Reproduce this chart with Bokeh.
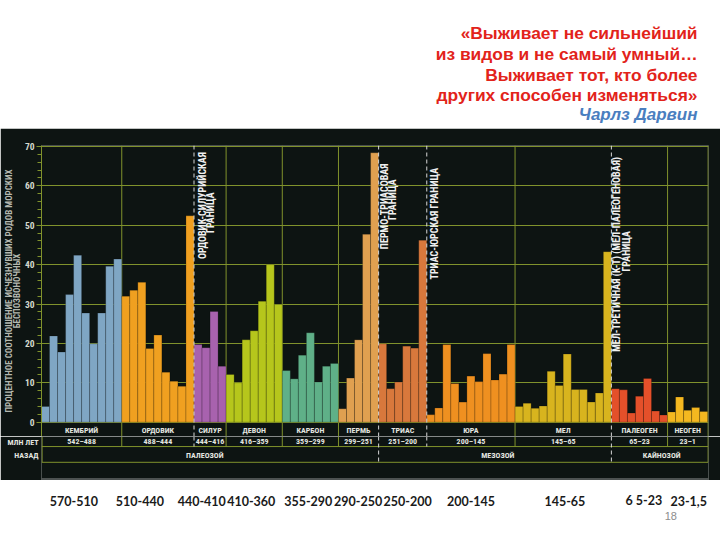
import math
from bokeh.plotting import figure
from bokeh.models import Range1d, Label, FixedTicker, ColumnDataSource, LinearAxis
from bokeh.layouts import column
from bokeh.embed import file_html
from bokeh.resources import INLINE
from bokeh.core.properties import value

# ---------------- data ----------------
periods = ["КЕМБРИЙ", "ОРДОВИК", "СИЛУР", "ДЕВОН", "КАРБОН", "ПЕРМЬ",
           "ТРИАС", "ЮРА", "МЕЛ", "ПАЛЕОГЕН", "НЕОГЕН"]
period_ages = ["542–488", "488–444", "444–416", "416–359", "359–299", "299–251",
               "251–200", "200–145", "145–65", "65–23", "23–1"]

cambrian = [4.0, 21.9, 17.8, 32.4, 42.4, 27.7, 19.9, 27.7, 39.6, 41.4]
ordovician = [32.0, 33.5, 35.5, 18.7, 22.1, 12.7, 10.4, 9.1, 52.4]
silurian = [19.7, 18.9, 28.1, 14.2]
devonian = [12.1, 10.0, 20.9, 23.2, 30.7, 40.0, 29.9]
carboniferous = [13.1, 11.0, 17.0, 22.7, 10.2, 14.2, 14.9]
permian = [3.4, 11.2, 20.9, 47.7, 68.4]
triassic = [19.9, 8.5, 10.2, 19.3, 18.8, 46.2]
jurassic = [1.9, 3.6, 19.7, 9.8, 5.1, 11.7, 10.3, 17.4, 10.7, 12.2, 19.7]
cretaceous = [4.0, 4.8, 3.5, 4.1, 12.9, 9.3, 17.3, 8.3, 8.3, 5.1, 7.4, 43.3]
paleogene = [8.5, 8.2, 2.3, 6.6, 11.1, 2.8, 1.8]
neogene = [2.6, 6.4, 3.0, 3.7, 2.7]
period_values = [cambrian, ordovician, silurian, devonian, carboniferous, permian,
                 triassic, jurassic, cretaceous, paleogene, neogene]

eras = ["ПАЛЕОЗОЙ", "МЕЗОЗОЙ", "КАЙНОЗОЙ"]
# extinction boundaries: index of the period after which the boundary lies
extinction_after = [1, 5, 6, 8]
extinction_names = [["ОРДОВИК-СИЛУРИЙСКАЯ", "ГРАНИЦА"],
                    ["ПЕРМО-ТРИАСОВАЯ", "ГРАНИЦА"],
                    ["ТРИАС-ЮРСКАЯ ГРАНИЦА"],
                    ["МЕЛ-ТРЕТИЧНАЯ  (K-T)  (МЕЛ-ПАЛЕОГЕНОВАЯ)", "ГРАНИЦА"]]
era_after = [5, 8]
time_caption = ["МЛН ЛЕТ", "НАЗАД"]

slide_ranges = ["570-510", "510-440", "440-410", "410-360", "355-290", "290-250",
                "250-200", "200-145", "145-65", "6 5-23", "23-1,5"]
page_number = "18"

quote_lines = ["«Выживает не сильнейший", "из видов и не самый умный…",
               "Выживает тот, кто более", "других способен изменяться»"]
quote_author = "Чарлз Дарвин"

y_title = ["ПРОЦЕНТНОЕ СООТНОШЕНИЕ ИСЧЕЗНУВШИХ РОДОВ МОРСКИХ", "БЕСПОЗВОНОЧНЫХ"]
y_ticks = [0, 10, 20, 30, 40, 50, 60, 70]

# ---------------- styles / layout ----------------
period_colors = ["#7fa6c4", "#f0a020", "#a862ae", "#b6c61c", "#5fb088", "#e0a050",
                 "#d8783c", "#ef9020", "#d8b41e", "#e4502a", "#f4b820"]
BG = "#0d1412"
GRID = "#80922c"
DASH = "#d6d6d6"
TXT = "#e4e6e0"
COND = "Roboto Condensed, DejaVu Sans Condensed, Liberation Sans"
W = 720
FRAME_L, FRAME_R = 40, 708           # every figure shares this frame, px
TOP_H, CHART_H, TABLE_H, BOT_H = 128, 308, 44, 60
CHART_TOP_BORDER = 17
PXU = 3.938                           # px per percent unit

# ---------------- build bar source ----------------
xs, tops, cols = [], [], []
starts, counts = [], []
i = 0
for k, vals in enumerate(period_values):
    starts.append(i)
    counts.append(len(vals))
    for v in vals:
        xs.append(i)
        tops.append(v)
        cols.append(period_colors[k])
        i += 1
n_bars = i
src = ColumnDataSource(dict(x=xs, top=tops, color=cols))
centers = [s + (c - 1) / 2 for s, c in zip(starts, counts)]
bounds = [s + c - 0.5 for s, c in zip(starts, counts)]  # right edge of each period

X0, X1 = -0.5, n_bars - 0.4
SX = (FRAME_R - FRAME_L) / (X1 - X0)
x_shared = Range1d(X0, X1)
YTOP = 70.25
Y_BOT = YTOP - (CHART_H - CHART_TOP_BORDER) / PXU
NAME_Y, AGE_Y, ROW_LINE, ERA_Y, TABLE_BOTTOM = -2.1, -4.9, -6.2, -8.5, -10.2
CAPTION_Y = [-5.2, -8.5]
RIGHT_EDGE = bounds[-1] + 0.05
LEFT_EDGE = X0 + 0.6 / SX


def base_fig(height, y_range, bg, x_range=None):
    f = figure(width=W, height=height, x_range=x_range or x_shared, y_range=y_range,
               output_backend="svg", toolbar_location=None, x_axis_type=None,
               y_axis_type=None, min_border_left=FRAME_L, min_border_right=W - FRAME_R,
               min_border_top=0, min_border_bottom=0, outline_line_color=None,
               background_fill_color=bg, border_fill_color=bg)
    f.xgrid.visible = False
    f.ygrid.visible = False
    return f


# ---------------- main chart ----------------
p = figure(width=W, height=CHART_H, x_range=x_shared, y_range=Range1d(Y_BOT, YTOP),
           output_backend="svg", toolbar_location=None, x_axis_type=None,
           min_border_left=FRAME_L, min_border_right=W - FRAME_R,
           min_border_top=CHART_TOP_BORDER, min_border_bottom=0,
           background_fill_color=BG, border_fill_color=BG, outline_line_color=None)
p.yaxis.ticker = FixedTicker(ticks=y_ticks, minor_ticks=list(range(0, 71, 2)))
p.yaxis.axis_line_color = GRID
p.yaxis.major_tick_line_color = GRID
p.yaxis.minor_tick_line_color = GRID
p.yaxis.major_tick_out = 5
p.yaxis.major_tick_in = 0
p.yaxis.minor_tick_out = 4
p.yaxis.minor_tick_in = 0
p.yaxis.major_label_standoff = 2
p.yaxis.major_label_text_color = "#d4d8cc"
p.yaxis.major_label_text_font = COND
p.yaxis.major_label_text_font_style = "bold"
p.yaxis.major_label_text_font_size = "9.5px"
p.yaxis.axis_label = "\n".join(y_title)
p.yaxis.axis_label_standoff = 0
p.yaxis.axis_label_text_font = COND
p.yaxis.axis_label_text_font_style = "bold"
p.yaxis.axis_label_text_font_size = "9px"
p.yaxis.axis_label_text_line_height = 0.8
p.yaxis.axis_label_text_color = "#b4b8b0"
p.ygrid.grid_line_color = GRID
p.ygrid.grid_line_width = 1
p.xgrid.visible = False

solid = [b for k, b in enumerate(bounds[:-1]) if k not in extinction_after]
p.segment(x0=solid, x1=solid, y0=[YTOP] * len(solid), y1=[Y_BOT] * len(solid),
          line_color=GRID, line_width=1, level="underlay")
p.segment(x0=[RIGHT_EDGE], x1=[RIGHT_EDGE], y0=[YTOP], y1=[Y_BOT],
          line_color=GRID, line_width=1, level="underlay")

p.vbar(x="x", top="top", bottom=0, width=1, fill_color="color", line_color="#000000",
       line_alpha=0.25, line_width=0.8, source=src)

ext_x = [bounds[k] for k in extinction_after]
p.segment(x0=ext_x, x1=ext_x, y0=[YTOP] * len(ext_x), y1=[Y_BOT] * len(ext_x),
          line_color=DASH, line_width=1, line_dash="4 3")

# extinction labels (offset from boundary, label centre height)
ext_layout = [[(1.0, 55.0), (2.0, 53.2)],
              [(0.75, 54.8), (1.74, 56.5)],
              [(0.96, 50.4)],
              [(0.66, 43.2), (1.9, 43.4)]]
for bx, names, lay in zip(ext_x, extinction_names, ext_layout):
    for txt, (dx, yc) in zip(names, lay):
        p.add_layout(Label(x=bx + dx, y=yc, text=txt, angle=math.pi / 2,
                           text_align="center", text_baseline="middle",
                           text_color="#f0f0f0", text_font=COND,
                           text_font_style="bold", text_font_size="10px"))

p.text(x=centers, y=[NAME_Y] * len(centers), text=periods, text_align="center",
       text_baseline="middle", text_color=TXT, text_font=value(COND),
       text_font_style="bold", text_font_size="8px")

# ---------------- table under the chart ----------------
tbl = base_fig(TABLE_H, Range1d(Y_BOT - TABLE_H / PXU, Y_BOT), BG)
cap_axis = LinearAxis(ticker=FixedTicker(ticks=CAPTION_Y),
                      major_label_overrides={CAPTION_Y[0]: time_caption[0],
                                             CAPTION_Y[1]: time_caption[1]},
                      axis_line_color=None, major_tick_line_color=None,
                      minor_tick_line_color=None, major_tick_out=0, major_tick_in=0,
                      major_label_standoff=3, major_label_text_color=TXT,
                      major_label_text_font=COND, major_label_text_font_style="bold",
                      major_label_text_font_size="8px")
tbl.add_layout(cap_axis, "left")
tbl.segment(x0=[LEFT_EDGE, RIGHT_EDGE], x1=[LEFT_EDGE, RIGHT_EDGE], y0=[Y_BOT, Y_BOT],
            y1=[TABLE_BOTTOM, TABLE_BOTTOM], line_color=GRID, line_width=1)
tbl.segment(x0=solid, x1=solid, y0=[Y_BOT] * len(solid), y1=[ROW_LINE] * len(solid),
            line_color=GRID, line_width=1)
tbl.segment(x0=[X0, X0], x1=[RIGHT_EDGE, RIGHT_EDGE], y0=[ROW_LINE, TABLE_BOTTOM],
            y1=[ROW_LINE, TABLE_BOTTOM], line_color=GRID, line_width=1)
ext_bottom = [TABLE_BOTTOM if k in era_after else ROW_LINE for k in extinction_after]
tbl.segment(x0=ext_x, x1=ext_x, y0=[Y_BOT] * len(ext_x), y1=ext_bottom,
            line_color=DASH, line_width=1, line_dash="4 3")
border_y = Y_BOT - (TABLE_H - 1.5) / PXU   # faint edge of the photographed picture
tbl.segment(x0=[X0], x1=[X1], y0=[border_y], y1=[border_y],
            line_color="#8e9090", line_width=1)

tbl.text(x=centers, y=[AGE_Y] * len(centers), text=period_ages, text_align="center",
         text_baseline="middle", text_color=TXT, text_font=value(COND),
         text_font_style="bold", text_font_size="8px")
era_x = [19.84, 56.35, 76.76]
tbl.text(x=era_x, y=[ERA_Y] * 3, text=eras, text_align="center", text_baseline="middle",
         text_color=TXT, text_font=value(COND), text_font_style="bold",
         text_font_size="8px")

# ---------------- top: quote ----------------
top = base_fig(TOP_H, Range1d(0, TOP_H), "white", x_range=Range1d(FRAME_L, FRAME_R))
top.text(x=[697] * 4, y=[TOP_H - 32, TOP_H - 53, TOP_H - 74, TOP_H - 94], text=quote_lines,
         text_align="right", text_baseline="alphabetic", text_color="#e2231a",
         text_font=value("Liberation Sans"), text_font_style="bold", text_font_size="17.4px")
top.text(x=[697], y=[TOP_H - 114], text=[quote_author], text_align="right",
         text_baseline="alphabetic", text_color="#4a7ebf",
         text_font=value("Liberation Sans"), text_font_style="bold italic",
         text_font_size="17px")

# ---------------- bottom: slide range labels ----------------
bot = base_fig(BOT_H, Range1d(0, BOT_H), "white")
range_x = [3.54, 11.76, 19.47, 25.63, 32.73, 38.95, 45.11, 53.01, 64.71, 74.54, 80.14]
bot.text(x=range_x, y=[BOT_H - 20] * len(range_x), text=slide_ranges, text_align="center",
         text_baseline="middle", text_color="#1a1a1a", text_font=value("Lato"),
         text_font_style="bold", text_font_size="12.5px")
bot.text(x=[77.9], y=[BOT_H - 35], text=[page_number], text_align="center",
         text_baseline="middle", text_color="#8c8c8c", text_font=value("Liberation Sans"),
         text_font_size="11px")

layout = column(top, p, tbl, bot, spacing=0)
open("out.html", "w").write(file_html(layout, INLINE))
